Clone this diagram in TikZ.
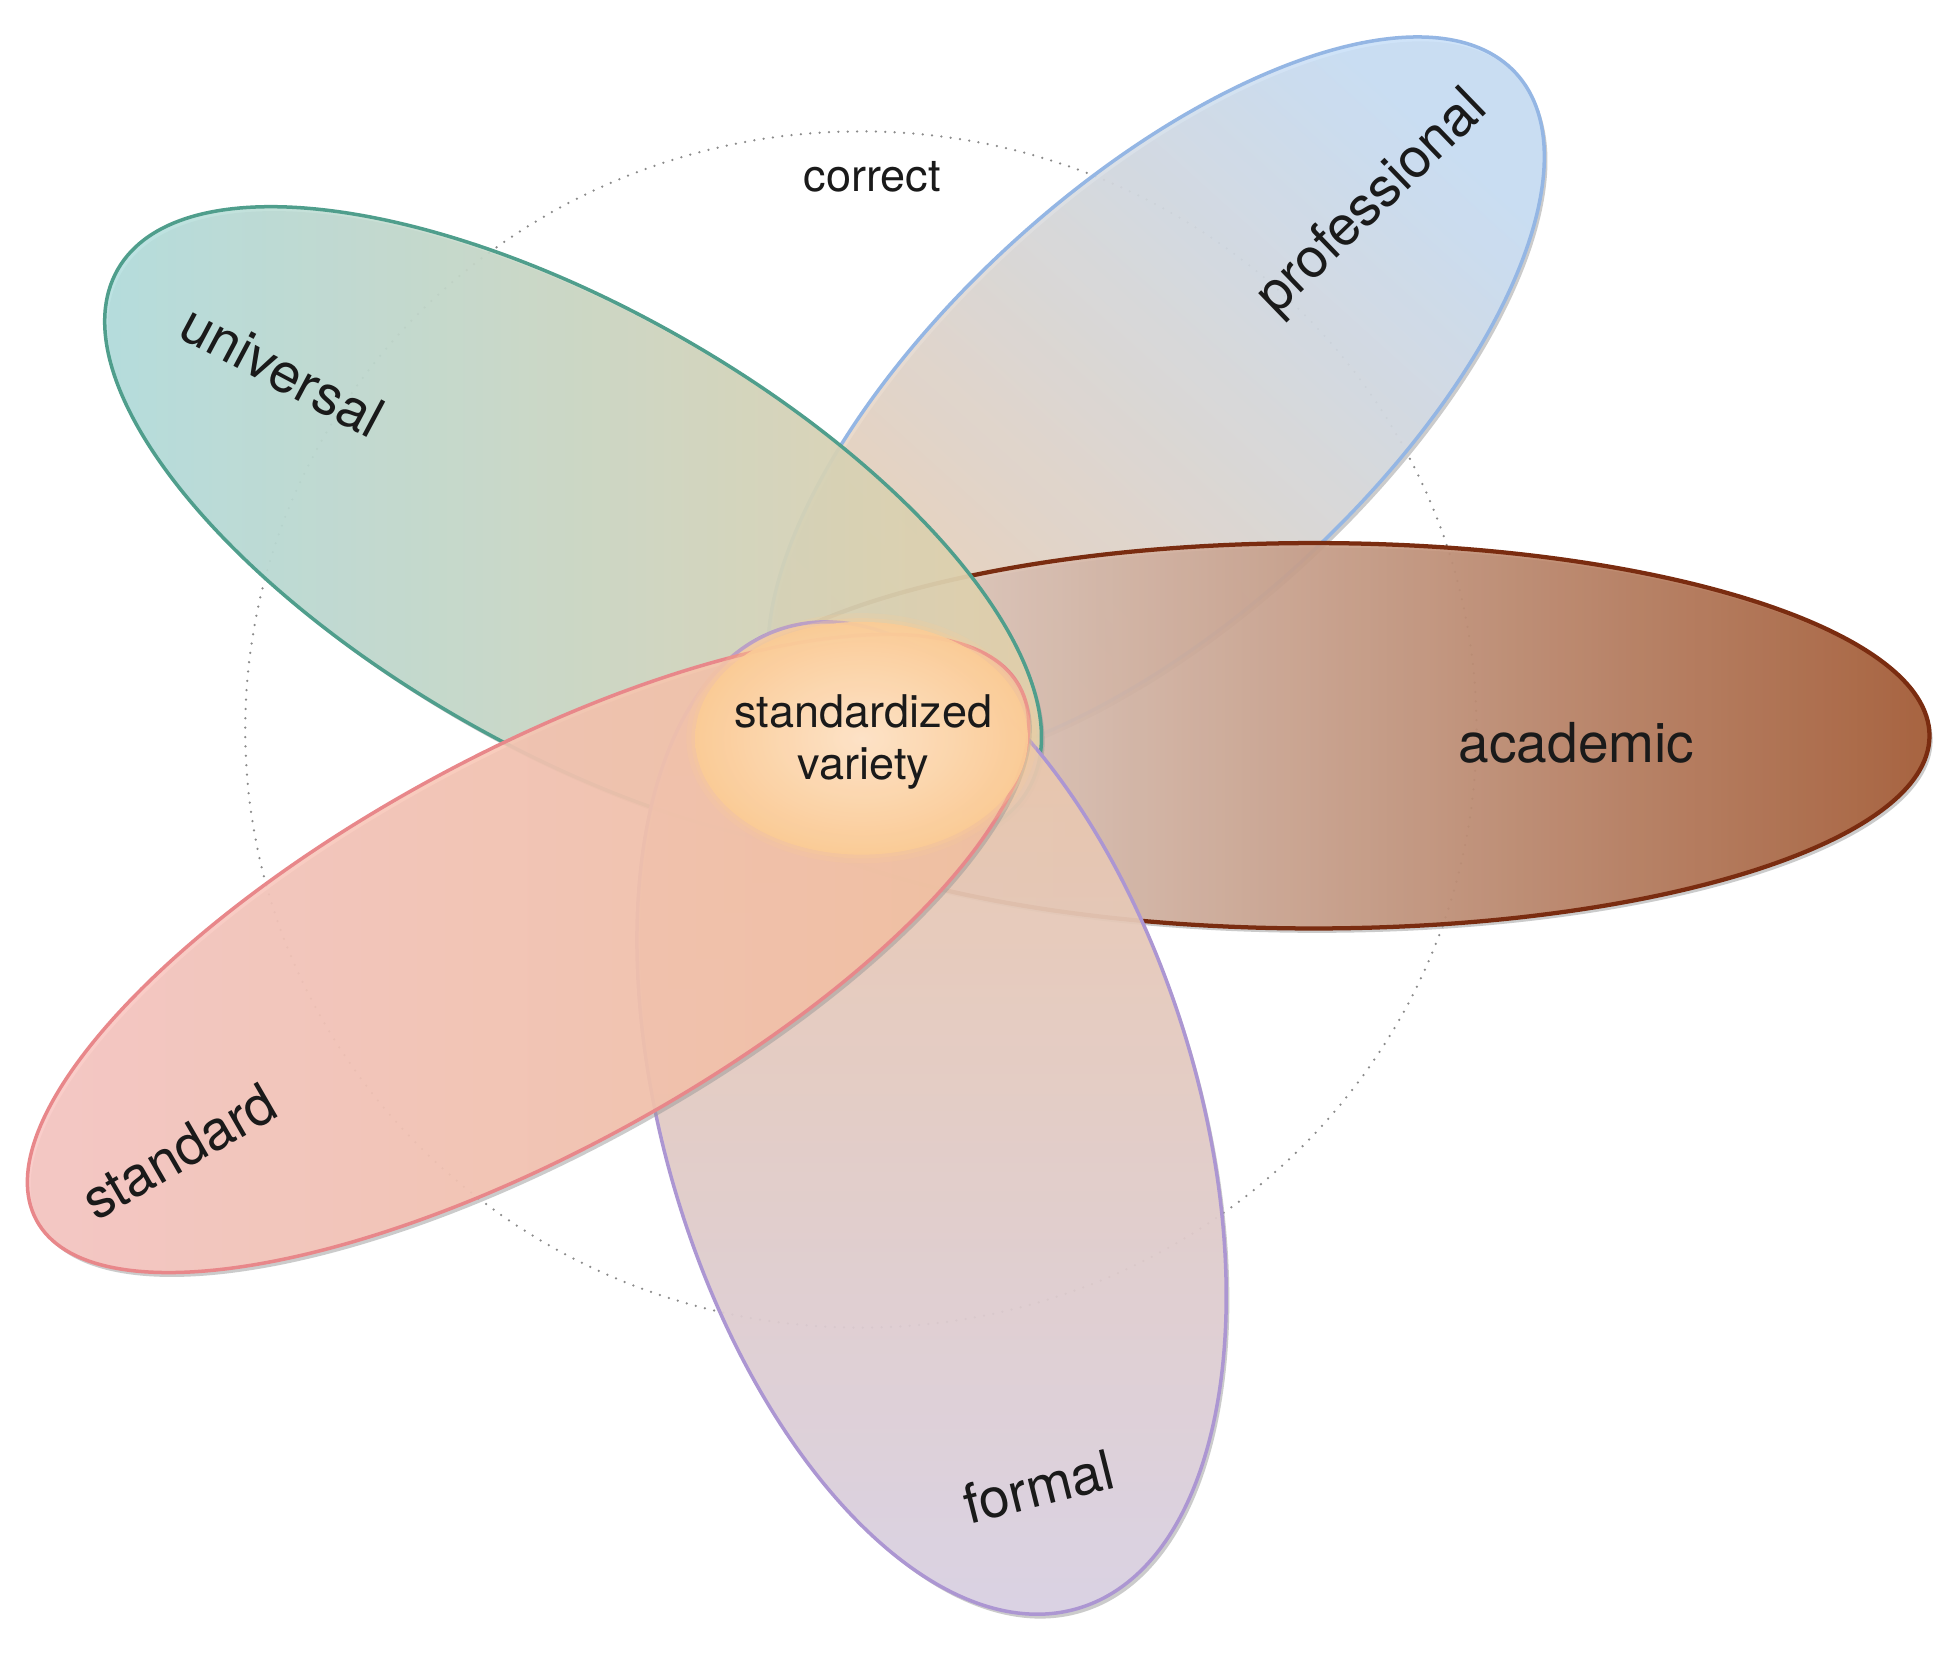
\documentclass[tikz,border=0pt]{standalone}
\usepackage{fontspec}
\setmainfont{TeX Gyre Heros}
\definecolor{txt}{HTML}{1A1A1A}
\definecolor{dotc}{HTML}{8A8A8A}
\definecolor{profline}{HTML}{94B6E4}
\definecolor{profA}{HTML}{F0D2B6}
\definecolor{profB}{HTML}{C9E0F8}
\definecolor{acadline}{HTML}{7A2C10}
\definecolor{acadA}{HTML}{EFE6E2}
\definecolor{acadM}{HTML}{D0AC9A}
\definecolor{acadB}{HTML}{A3562E}
\definecolor{uniline}{HTML}{4F9E8C}
\definecolor{uniA}{HTML}{B0E0E2}
\definecolor{uniB}{HTML}{E9D2A8}
\definecolor{formline}{HTML}{AC96D2}
\definecolor{formA}{HTML}{F2C8A4}
\definecolor{formB}{HTML}{DCD4EA}
\definecolor{stdline}{HTML}{E8878A}
\definecolor{stdA}{HTML}{F9C7C5}
\definecolor{stdB}{HTML}{F6C29E}
\definecolor{cenA}{HTML}{FEE6CC}
\definecolor{cenB}{HTML}{FBCC96}
\tikzset{
  petal/.style={line width=2.8pt, fill opacity=0.88},
  shadowel/.style={fill=black!40, fill opacity=0.5, draw=none},
  lbl/.style={font=\fontsize{44}{52}\selectfont, text=txt, inner sep=0pt},
  smalllbl/.style={font=\fontsize{36}{42}\selectfont, text=txt, inner sep=0pt},
  dotring/.style={draw=dotc, line width=2pt, line cap=round, dash pattern=on 0pt off 7.5pt}
}
\begin{document}
\begin{tikzpicture}[x=1pt,y=1pt]
\useasboundingbox[fill=white] (0,0) rectangle (1560,-1325);
% dotted ring
\draw[dotring] (688,-583) ellipse [x radius=492, y radius=478];
% professional
\fill[shadowel, rotate around={42.5:(926.5,-325.5)}] (926.5,-325.5) ellipse [x radius=390, y radius=172];
\shadedraw[petal, draw=profline, top color=profB, bottom color=profA, shading angle=-42, rotate around={42.5:(924,-322)}] (924,-322) ellipse [x radius=390, y radius=172];
% academic
\fill[shadowel] (1052.5,-591.5) ellipse [x radius=492, y radius=154];
\shadedraw[petal, line width=3.4pt, draw=acadline, left color=acadA, middle color=acadM, right color=acadB] (1050,-588) ellipse [x radius=492, y radius=154];
% universal
\fill[shadowel, rotate around={-29.7:(460.5,-426.5)}] (460.5,-426.5) ellipse [x radius=419, y radius=176];
\shadedraw[petal, draw=uniline, left color=uniA, right color=uniB, rotate around={-29.7:(458,-423)}] (458,-423) ellipse [x radius=419, y radius=176];
% formal
\fill[shadowel, rotate around={16.7:(747,-897)}] (747,-897) ellipse [x radius=213, y radius=409];
\shadedraw[petal, draw=formline, top color=formA, bottom color=formB, rotate around={16.7:(744.5,-893.5)}] (744.5,-893.5) ellipse [x radius=213, y radius=409];
% standard
\fill[shadowel, rotate around={28.5:(424.5,-765.5)}] (424.5,-765.5) ellipse [x radius=447, y radius=159];
\shadedraw[petal, draw=stdline, left color=stdA, right color=stdB, rotate around={28.5:(422,-762)}] (422,-762) ellipse [x radius=447, y radius=159];
% standardized variety
\fill[cenB, fill opacity=0.2] (688.5,-590) ellipse [x radius=140, y radius=100];
\fill[cenB, fill opacity=0.3] (688.5,-590) ellipse [x radius=136, y radius=96];
\shade[inner color=cenA, outer color=cenB, fill opacity=0.9] (688.5,-590) ellipse [x radius=133, y radius=93];
% labels
\node[smalllbl] (correct) at (697,-141) {correct};
\node[lbl, rotate=44] (professional) at (1097,-163) {professional};
\node[lbl, rotate=-28] (universal) at (226,-296) {universal};
\node[lbl] (academic) at (1260,-594) {academic};
\node[lbl, rotate=30] (standard) at (143,-920) {standard};
\node[lbl, rotate=14] (formal) at (830,-1188) {formal};
\node[smalllbl, align=center] (stdvar) at (690,-593) {standardized\\variety};
\end{tikzpicture}
\end{document}
